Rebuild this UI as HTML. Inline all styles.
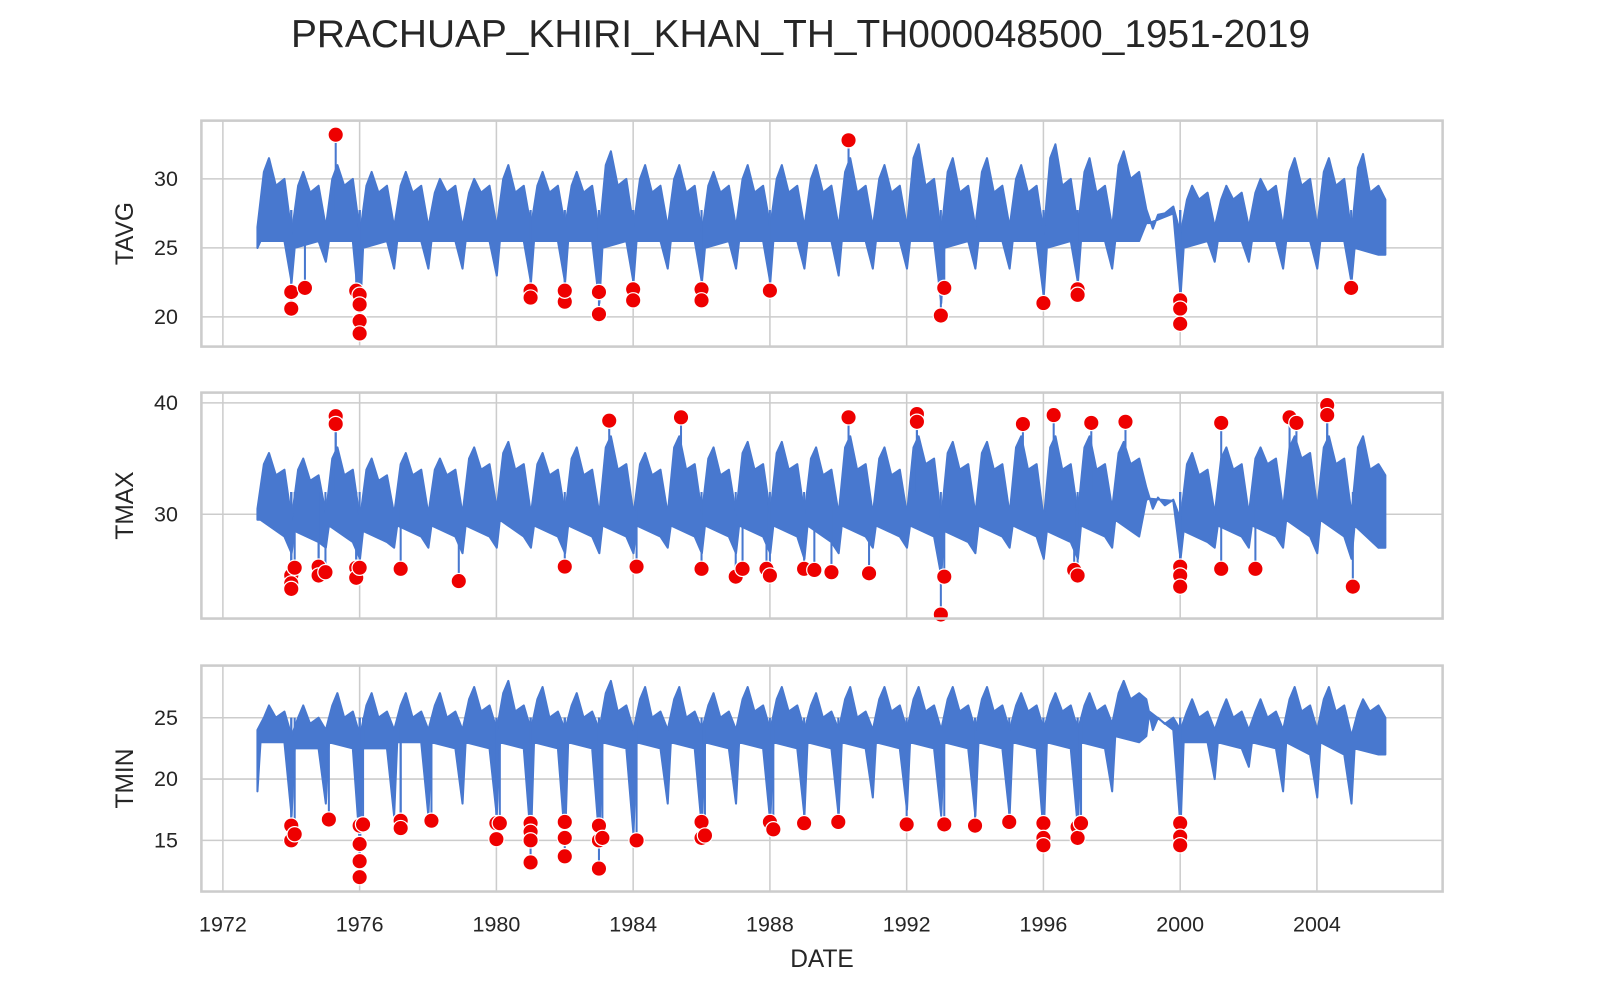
<!DOCTYPE html>
<html><head><meta charset="utf-8"><style>
html,body{margin:0;padding:0;background:#fff}
svg{display:block;font-family:"Liberation Sans",Arial,sans-serif}
</style></head><body>
<svg width="1600" height="1000" viewBox="0 0 1600 1000" xmlns="http://www.w3.org/2000/svg">
<g id="chart" transform="scale(1.0224)">
<text x="783" y="46" font-size="38" text-anchor="middle" fill="#262626">PRACHUAP_KHIRI_KHAN_TH_TH000048500_1951-2019</text>
<text x="804" y="946" font-size="24" text-anchor="middle" fill="#262626">DATE</text>
</g>
</svg>
<script>
// x ticks
const xTicks = [1972,1976,1980,1984,1988,1992,1996,2000,2004];
const years = [];
for (let y=1973;y<=2005;y++) years.push(y);

// TAVG per-year envelope values
const tavgDip  = [25,22.5,24,20,23.5,23.5,23.5,23,22.5,22.5,21,22.5,23.5,22.5,23.5,22.5,23.5,23,23.5,23.5,21,23.5,23.5,21.5,22.5,23.5,26.8,21.5,24,24,23.5,23.5,22.5];
const tavgH1Hi = [31.5,30.5,31,30.5,30.5,30,30,31,30.5,30.5,32,31,31,30.5,31,31,31,31.5,31,32.5,31.5,31.5,31,32.5,31.5,32,27.4,29.5,29.5,30,31.5,31.5,31.8];
const tavgH1Lo = [25.5,25,25.5,25,25.5,25.5,25.5,25.5,25.5,25.5,25,25.5,25.5,25,25.5,25.5,25.5,25.5,25.5,25.5,25,25.5,25.5,25,25.5,25.5,26.8,25,25.5,25.5,25.5,25.5,25];
const tavgH2Hi = [30,29.5,30,29.5,29.5,29.5,29.5,29.5,29.5,29.5,30,29.5,29.5,29.5,29.5,29.5,29.5,29.5,29.5,30,29.5,29.5,29.5,30,29.5,30.5,28,29,29,29.5,30,30,29.5];
const tavgH2Lo = [25.5,25.5,25.5,25.5,25.5,25.5,25.5,25.5,25.5,25.5,25.5,25.5,25.5,25.5,25.5,25.5,25.5,25.5,25.5,25.5,25.5,25.5,25.5,25.5,25.5,25.5,27.5,25.5,25.5,25.5,25.5,25.5,24.5];
const tavgOutYears = [1974.0,1974.0,1974.4,1975.3,1975.9,1976.0,1976.0,1976.0,1976.0,1981.0,1981.0,1982.0,1982.0,1983.0,1983.0,1984.0,1984.0,1986.0,1986.0,1988.0,1990.3,1993.0,1993.1,1996.0,1997.0,1997.0,2000.0,2000.0,2000.0,2005.0];
const tavgOutVals  = [21.8,20.6,22.1,33.2,21.9,21.6,20.9,19.7,18.8,21.9,21.4,21.1,21.9,21.8,20.2,22.0,21.2,22.0,21.2,21.9,32.8,20.1,22.1,21.0,22.0,21.6,21.2,20.6,19.5,22.1];

// TMAX
const tmaxDip  = [29.5,26.5,27,26,27,27,26.5,27,27,26.5,26.5,26.5,27,26.5,26.5,26.5,26,26.5,27,27,24.5,26.5,27,26,26,27,31.3,26,27,27,27,26.5,26];
const tmaxH1Hi = [35.5,35,36,35,35.5,35,36,36.5,35.5,36,37,35.5,37,36,36.5,36.5,36,37,36,37,36.5,36.5,37,37,37,36.5,31.5,35.5,36,36,37,37,37];
const tmaxH1Lo = [29.5,28.5,29,28.5,29,29,29,29.5,29,29,29,29,29,29,29,29,29,29,29,29,28.5,29,29,28.5,29,29.5,31.4,28.5,29,29,29.5,29.5,29];
const tmaxH2Hi = [34,33.5,34,33.5,34,34,34.5,34.5,34,34,34.5,34,34.5,34,34.5,34.5,34,34.5,34,35,34.5,34.5,34.5,34.5,34.5,35,31.3,34,34.5,35,35.5,35,34.5];
const tmaxH2Lo = [28,27.5,27.5,27.5,28,28,28,28,28,28,28,28,28,28,28,28,27.5,28,28,28,27.5,28,28,27.5,28,28,31.2,27.5,28,28,28,28,27];
const tmaxOutYears = [1974.0,1974.0,1974.0,1974.1,1974.8,1974.8,1975.0,1975.3,1975.3,1975.9,1975.9,1976.0,1977.2,1978.9,1982.0,1983.3,1984.1,1985.4,1986.0,1987.0,1987.2,1987.9,1988.0,1989.0,1989.3,1989.8,1990.3,1990.9,1992.3,1992.3,1993.0,1993.1,1995.4,1996.3,1996.9,1997.0,1997.4,1998.4,2000.0,2000.0,2000.0,2001.2,2001.2,2002.2,2003.2,2003.4,2004.3,2004.3,2005.05];
const tmaxOutVals  = [24.5,23.8,23.3,25.2,25.3,24.5,24.8,38.8,38.1,25.2,24.3,25.2,25.1,24.0,25.3,38.4,25.3,38.7,25.1,24.4,25.1,25.1,24.5,25.1,25.0,24.8,38.7,24.7,39.0,38.3,21.0,24.4,38.1,38.9,25.0,24.5,38.2,38.3,25.3,24.5,23.5,38.2,25.1,25.1,38.7,38.2,39.8,38.9,23.5];

// TMIN
const tminDip  = [19,17,18,14.5,17,17,18,17,15,15,15,15.5,18,16,18,16.5,17,17,18.5,17.5,17,17,17,15.5,16,19,23.5,16,20,21,19,18.5,18];
const tminH1Hi = [26,26,27,27,27,27,27.5,28,27.5,27,28,27.5,27.5,27,27.5,27.5,27,27.5,27.5,27.5,27.5,27.5,27,27,27,28,25,26.5,26.5,26.5,27.5,27.5,26.5];
const tminH1Lo = [23,22.5,23,22.5,23,23,23,23,23,23,23,23,23,23,23,23,23,23,23,23,23,23,23,23,23,23.5,25.5,23,23,23,23,23,22.5];
const tminH2Hi = [25.5,25,25.5,25.5,25.5,25.5,26,26,25.5,25.5,26,25.5,25.5,25.5,26,26,25.5,25.5,26,26,26,26,26,26,26,27,25,25.5,25.5,25.5,26,26,26];
const tminH2Lo = [23,22.5,22.5,22.5,23,22.5,22.5,22.5,22.5,22.5,22.5,22.5,22.5,22.5,22.5,22.5,22.5,22.5,22.5,22.5,22.5,22.5,22.5,22.5,22.5,23,24,23,22.5,22.5,22,22,22];
const tminOutYears = [1974.0,1974.0,1974.1,1975.1,1976.0,1976.0,1976.0,1976.0,1976.1,1977.2,1977.2,1978.1,1980.0,1980.0,1980.1,1981.0,1981.0,1981.0,1981.0,1982.0,1982.0,1982.0,1983.0,1983.0,1983.0,1983.1,1984.1,1986.0,1986.0,1986.1,1988.0,1988.1,1989.0,1990.0,1992.0,1993.1,1994.0,1995.0,1996.0,1996.0,1996.0,1997.0,1997.0,1997.1,2000.0,2000.0,2000.0];
const tminOutVals  = [16.2,15.0,15.5,16.7,16.2,14.7,13.3,12.0,16.3,16.6,16.0,16.6,16.4,15.1,16.4,16.4,15.7,15.0,13.2,16.5,15.2,13.7,16.2,15.0,12.7,15.2,15.0,16.5,15.2,15.4,16.5,15.9,16.4,16.5,16.3,16.3,16.2,16.5,16.4,15.2,14.6,16.1,15.2,16.4,16.4,15.3,14.6];

const NS='http://www.w3.org/2000/svg';
const svg=document.getElementById('chart');
function mk(tag, attrs, parent){const e=document.createElementNS(NS,tag);for(const k in attrs)e.setAttribute(k,attrs[k]);(parent||svg).appendChild(e);return e;}
const X0=197, X1=1411;
function xs(yr){return 218+(yr-1972)*33.44;}

const panels=[
 {name:'tavg',label:'TAVG',top:118,bot:339,vTop:34.22,vBot:17.85,ticks:[20,25,30],dip:tavgDip,h1hi:tavgH1Hi,h1lo:tavgH1Lo,h2hi:tavgH2Hi,h2lo:tavgH2Lo,oy:tavgOutYears,ov:tavgOutVals,xl:false},
 {name:'tmax',label:'TMAX',top:384,bot:605,vTop:40.92,vBot:20.64,ticks:[30,40],dip:tmaxDip,h1hi:tmaxH1Hi,h1lo:tmaxH1Lo,h2hi:tmaxH2Hi,h2lo:tmaxH2Lo,oy:tmaxOutYears,ov:tmaxOutVals,xl:false},
 {name:'tmin',label:'TMIN',top:651,bot:872,vTop:29.25,vBot:10.83,ticks:[15,20,25],dip:tminDip,h1hi:tminH1Hi,h1lo:tminH1Lo,h2hi:tminH2Hi,h2lo:tminH2Lo,oy:tminOutYears,ov:tminOutVals,xl:true}
];

panels.forEach(p=>{
  const ys=v=>p.top+(p.vTop-v)/(p.vTop-p.vBot)*(p.bot-p.top);
  const g=mk('g',{});
  
  
  xTicks.forEach(t=>{
    const l=mk('line',{x1:xs(t),x2:xs(t),y1:p.top,y2:p.bot,stroke:'#cccccc','stroke-width':1.5},g);
    
    
    if(p.xl){
      const tx=mk('text',{x:xs(t),y:p.bot+39,'font-size':21,'text-anchor':'middle',fill:'#262626'},g);
      tx.textContent=t;
      
      
    }
  });
  p.ticks.forEach(t=>{
    const l=mk('line',{x1:X0,x2:X1,y1:ys(t),y2:ys(t),stroke:'#cccccc','stroke-width':1.5},g);
    
    
    const tx=mk('text',{x:X0-23,y:ys(t)+7,'font-size':21,'text-anchor':'end',fill:'#262626'},g);
    tx.textContent=t;
    
    
  });
  const yl=mk('text',{x:0,y:0,'font-size':24,'text-anchor':'middle',fill:'#262626',transform:`translate(130,${(p.top+p.bot)/2}) rotate(-90)`},g);
  yl.textContent=p.label;
  
  
  const up=[], lo=[];
  years.forEach((yr,i)=>{
    up.push([xs(yr+0.01),ys(p.h1lo[i]+1)]);
    up.push([xs(yr+0.2),ys(p.h1hi[i]-1)]);
    up.push([xs(yr+0.35),ys(p.h1hi[i])]);
    up.push([xs(yr+0.55),ys(p.h2hi[i]-0.5)]);
    up.push([xs(yr+0.8),ys(p.h2hi[i])]);
    lo.push([xs(yr+0.01),ys(p.dip[i])]);
    lo.push([xs(yr+0.1),ys(p.h1lo[i])]);
    lo.push([xs(yr+0.8),ys(p.h2lo[i])]);
  });
  up.push([xs(2006),ys(p.h2hi[32]-1)]); lo.push([xs(2006),ys(p.h2lo[32])]);
  const pts=up.concat(lo.reverse()).map(q=>q[0].toFixed(1)+','+q[1].toFixed(1)).join(' ');
  const band=mk('polygon',{points:pts,fill:'#4878cf',stroke:'#4878cf','stroke-width':2,'stroke-linejoin':'round'},g);
  
  
  const mid=ys((p.h1lo[5]+p.h1hi[5])/2);
  p.oy.forEach((yr,i)=>{
    const s=mk('line',{x1:xs(yr),x2:xs(yr),y1:mid,y2:ys(p.ov[i]),stroke:'#4878cf','stroke-width':2},g);
    
    
  });
  p.oy.forEach((yr,i)=>{
    const c=mk('circle',{cx:xs(yr),cy:ys(p.ov[i]),r:7.5,fill:'#ee0000',stroke:'#ffffff','stroke-width':1.2},g);
    
    
  });
  const fr=mk('rect',{x:X0,y:p.top,width:X1-X0,height:p.bot-p.top,fill:'none',stroke:'#cccccc','stroke-width':2.5},g);
  
  
});
</script>
</body></html>
